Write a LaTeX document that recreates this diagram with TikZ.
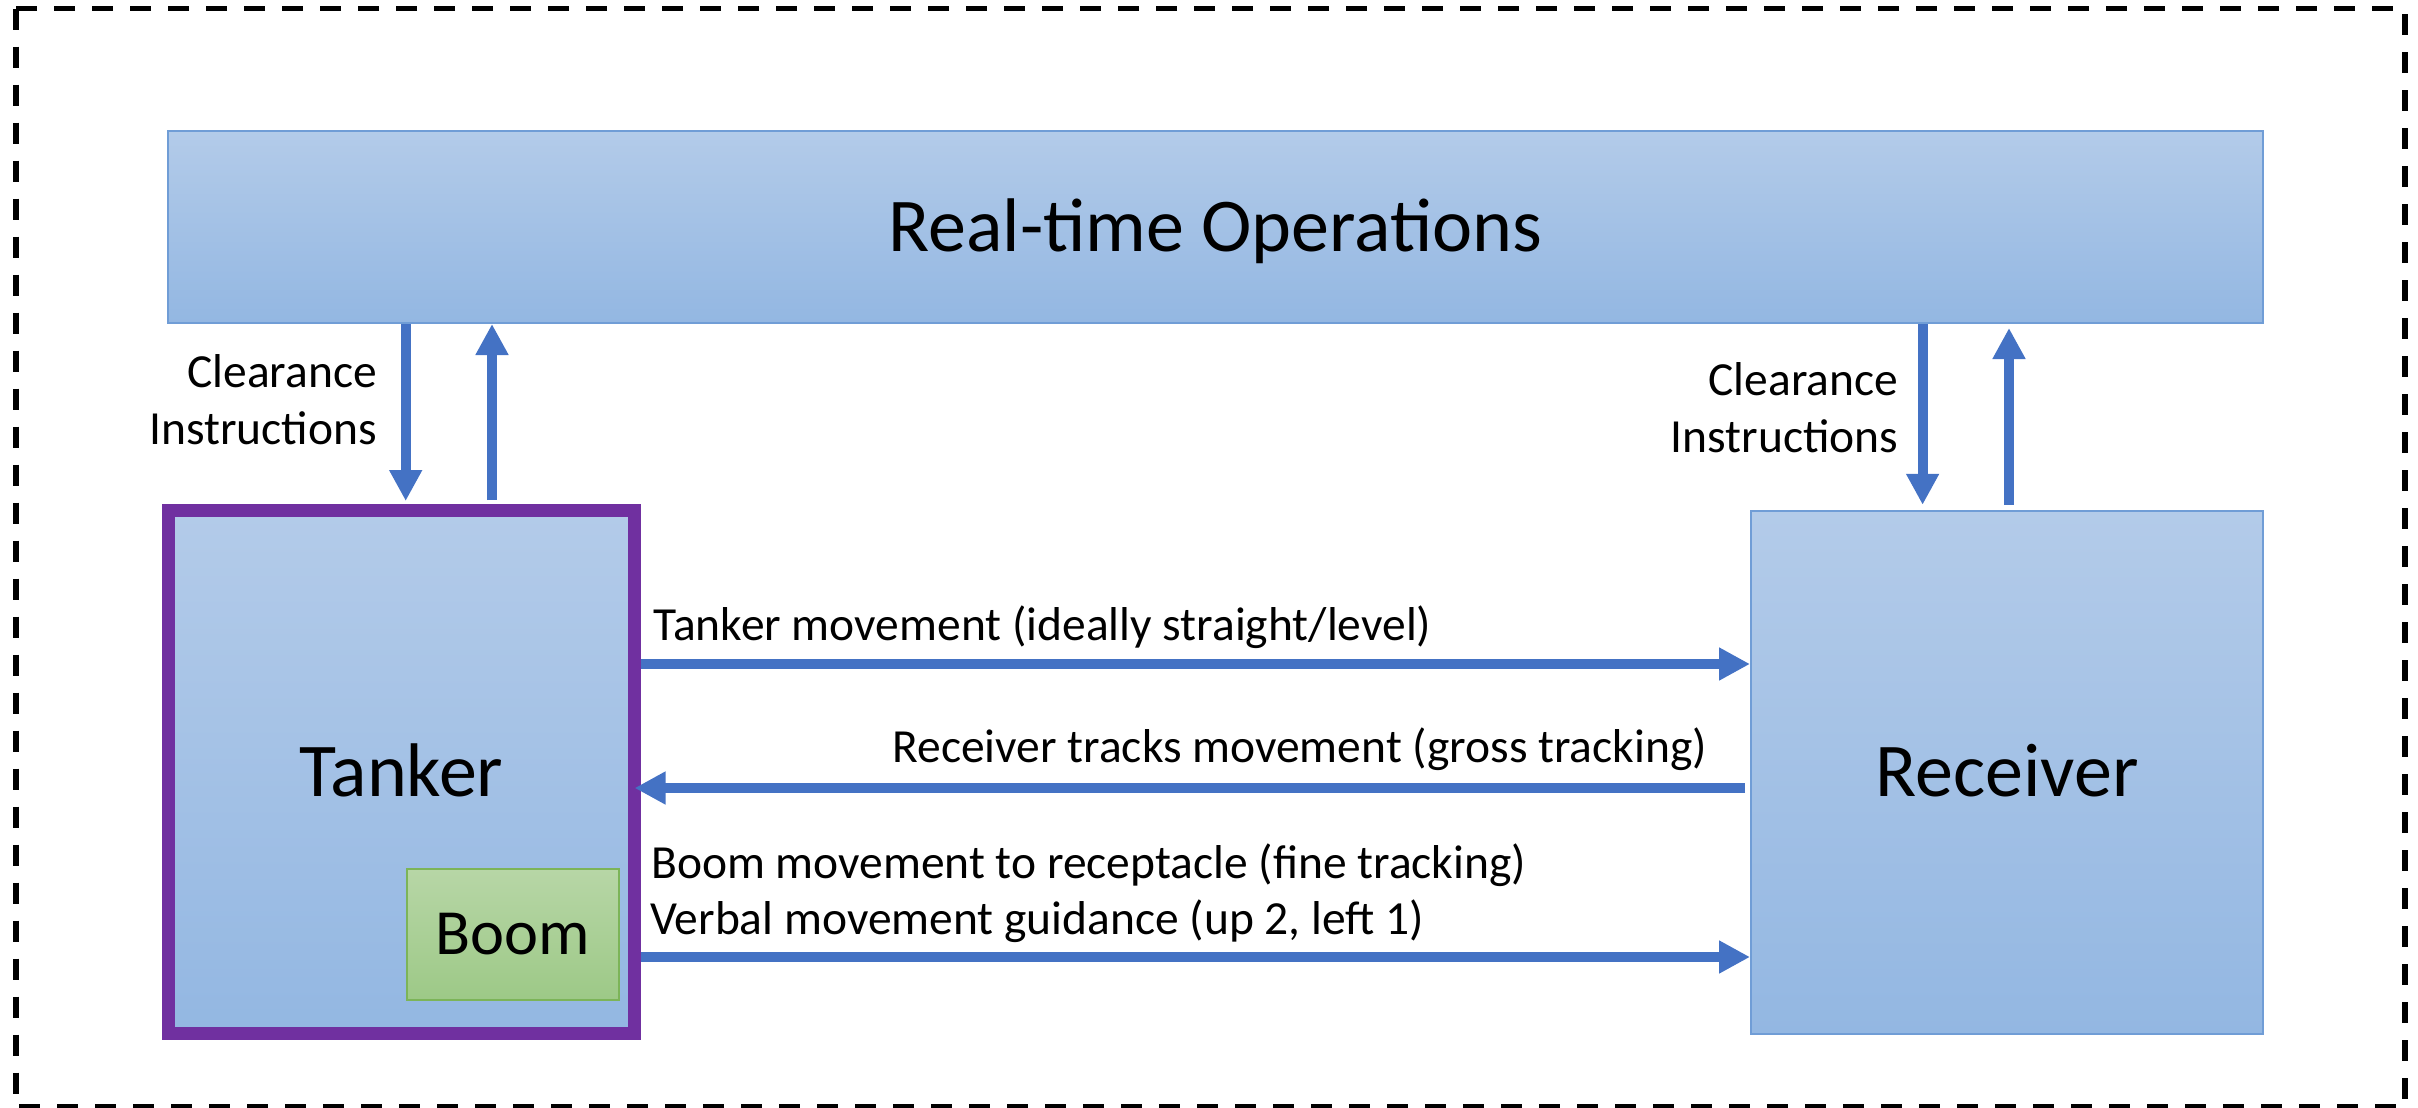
\documentclass[tikz,border=0pt]{standalone}
\usepackage{fontspec}
\setmainfont{Carlito}
\usetikzlibrary{arrows.meta}

\definecolor{boxtop}{RGB}{179,203,233}
\definecolor{boxbot}{RGB}{147,183,226}
\definecolor{boxedge}{RGB}{112,157,214}
\definecolor{boomtop}{RGB}{183,214,166}
\definecolor{boombot}{RGB}{157,201,135}
\definecolor{boomedge}{RGB}{124,180,88}
\definecolor{tankerpurple}{RGB}{112,48,160}
\definecolor{flowblue}{RGB}{68,114,196}

\tikzset{
  bluebox/.style={draw=boxedge, line width=2pt, top color=boxtop, bottom color=boxbot,
    inner sep=0pt, font=\fontsize{76}{91}\selectfont, text height=48pt, text depth=0pt},
  tankerbox/.style={bluebox, draw=tankerpurple, line width=13pt},
  boombox/.style={draw=boomedge, line width=2pt, top color=boomtop, bottom color=boombot,
    inner sep=0pt, font=\fontsize{64.4}{77}\selectfont, text height=40.7pt, text depth=0pt},
  lbl/.style={inner sep=0pt, font=\fontsize{47.5}{57}\selectfont},
  flow/.style={draw=flowblue, line width=10pt, -{Triangle[width=31pt,length=31pt]}},
  frame/.style={draw=black, line width=5.7pt, dash pattern=on 21pt off 17pt}
}

\begin{document}
\begin{tikzpicture}[x=1pt, y=-1pt]
\useasboundingbox (0,0) rectangle (2418,1108);

% outer dashed boundary
\draw[frame] (15.7,8.6) rectangle (2405,1107);

% main blocks
\node[bluebox, minimum width=2095pt, minimum height=192pt] (rto) at (1215.5,227) {Real-time Operations};
\node[tankerbox, minimum width=466pt, minimum height=523pt] (tanker) at (401.5,772) {Tanker};
\node[boombox, minimum width=212pt, minimum height=131pt] (boom) at (513,934.5) {Boom};
\node[bluebox, minimum width=512pt, minimum height=523pt] (receiver) at (2007,772.3) {Receiver};

% arrow guide positions
\coordinate (xa) at (405.7,0);
\coordinate (xb) at (492,0);
\coordinate (xc) at (1922.6,0);
\coordinate (xd) at (2009,0);
\coordinate (ya) at (0,664);
\coordinate (yb) at (0,788);
\coordinate (yc) at (0,957);

% vertical exchanges with real-time operations
\draw[flow, shorten >=3pt] (rto.south -| xa) -- (tanker.north -| xa);
\draw[flow, shorten <=4pt] (tanker.north -| xb) -- (rto.south -| xb);
\draw[flow, shorten >=5pt] (rto.south -| xc) -- (receiver.north -| xc);
\draw[flow, shorten <=5pt, shorten >=4pt] (receiver.north -| xd) -- (rto.south -| xd);

% horizontal exchanges between tanker and receiver
\draw[flow] (tanker.east |- ya) -- (receiver.west |- ya);
\draw[flow, shorten <=5pt, shorten >=-6.4pt] (receiver.west |- yb) -- (tanker.east |- yb);
\draw[flow] (tanker.east |- yc) -- (receiver.west |- yc);

% labels
\node[lbl, anchor=base east] (clrLa) at (377,387.5) {Clearance};
\node[lbl, anchor=base east] (clrLb) at (377,444.6) {Instructions};
\node[lbl, anchor=base east] (clrRa) at (1898.4,395) {Clearance};
\node[lbl, anchor=base east] (clrRb) at (1898.4,452) {Instructions};
\node[lbl, anchor=base west] (mvA) at (653.6,640) {Tanker movement (ideally straight/level)};
\node[lbl, anchor=base east] (mvB) at (1707,762.5) {Receiver tracks movement (gross tracking)};
\node[lbl, anchor=base west] (mvC) at (651,878) {Boom movement to receptacle (fine tracking)};
\node[lbl, anchor=base west] (mvD) at (650,934.5) {Verbal movement guidance (up 2, left 1)};
\end{tikzpicture}
\end{document}
